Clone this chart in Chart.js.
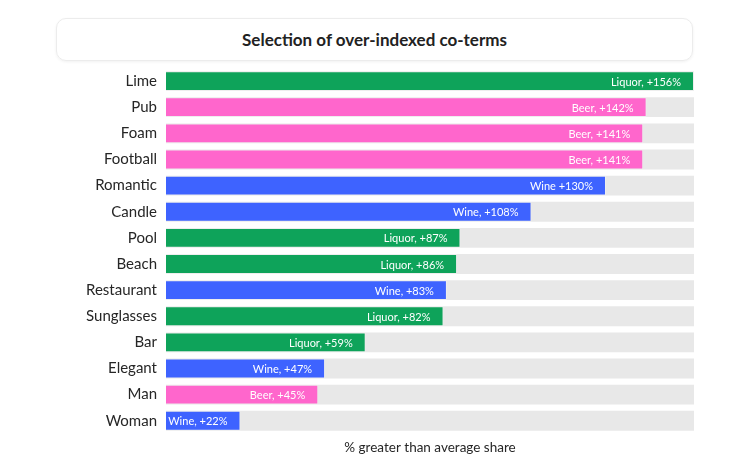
<!DOCTYPE html>
<html>
<head>
<meta charset="utf-8">
<script src="https://cdn.jsdelivr.net/npm/chart.js@4"></script>
<style>
    html, body { margin: 0; padding: 0; background: #fff; }
    #wrap { position: relative; width: 750px; height: 469px; }
    #title_box {
        position: absolute; left: 56px; top: 18px; width: 635px; height: 41px;
        border: 1px solid #ececec; border-radius: 10px;
        box-shadow: 0 1px 3px rgba(0, 0, 0, .06);
        font-family: Lato, sans-serif; font-weight: bold; font-size: 17px; color: #222;
        display: flex; align-items: center; justify-content: center;
    }
    #main_chart { position: absolute; left: 0; top: 0; }
</style>
</head>
<body>
<div id="wrap">
    <div id="title_box">Selection of over-indexed co-terms</div>
    <canvas id="main_chart" width="750" height="469"></canvas>
</div>
<script>
let colors = {
    'liquor': '#0ea35a',
    'beer': '#ff66cc',
    'wine': '#3e63ff',
    'track': '#e8e8e8',
    'text': '#262626',
}

const terms = ['Lime', 'Pub', 'Foam', 'Football', 'Romantic', 'Candle', 'Pool', 'Beach', 'Restaurant', 'Sunglasses', 'Bar', 'Elegant', 'Man', 'Woman'];
const values = [156, 142, 141, 141, 130, 108, 87, 86, 83, 82, 59, 47, 45, 22];
const drinks = ['Liquor', 'Beer', 'Beer', 'Beer', 'Wine', 'Wine', 'Liquor', 'Liquor', 'Wine', 'Liquor', 'Liquor', 'Wine', 'Beer', 'Wine'];
const bar_labels = ['Liquor, +156%', 'Beer, +142%', 'Beer, +141%', 'Beer, +141%', 'Wine +130%', 'Wine, +108%', 'Liquor, +87%', 'Liquor, +86%', 'Wine, +83%', 'Liquor, +82%', 'Liquor, +59%', 'Wine, +47%', 'Beer, +45%', 'Wine, +22%'];
const max_value = 156;
const track = terms.map(() => max_value);

const drink_color = d => colors[d.toLowerCase()];

// write the label inside the end of each bar
const barText = {
    id: 'barText',
    afterDatasetsDraw(chart) {
        const ctx = chart.ctx;
        const meta = chart.getDatasetMeta(0);
        ctx.save();
        ctx.font = '11px Lato';
        ctx.fillStyle = '#fff';
        ctx.textAlign = 'right';
        ctx.textBaseline = 'middle';
        meta.data.forEach((bar, i) => {
            ctx.fillText(bar_labels[i], bar.x - 13, bar.y + 1);
        });
        ctx.restore();
    }
}

new Chart(document.getElementById('main_chart'), {
    type: 'bar',
    data: {
        labels: terms,
        datasets: [{
            label: 'share',
            data: values,
            backgroundColor: drinks.map(drink_color),
            borderColor: 'rgba(255, 255, 255, .25)',
            borderWidth: 1,
            grouped: false,
            order: 0,
        },
        {
            label: 'track',
            data: track,
            backgroundColor: colors.track,
            borderWidth: 0,
            grouped: false,
            order: 1,
        }]
    },
    options: {
        indexAxis: 'y',
        responsive: false,
        animation: false,
        categoryPercentage: 1,
        barPercentage: 0.76,
        layout: {
            padding: { top: 68, right: 56, bottom: 11, left: 0 }
        },
        scales: {
            x: {
                min: 0,
                max: max_value,
                grid: { display: false, drawTicks: false },
                border: { display: false },
                ticks: { display: false },
                title: {
                    display: true,
                    text: '% greater than average share',
                    color: colors.text,
                    font: { size: 13.5, family: 'Lato' },
                    padding: { top: 6, bottom: 2 },
                }
            },
            y: {
                grid: { display: false, drawTicks: false },
                border: { display: false },
                ticks: {
                    color: colors.text,
                    padding: 9,
                    font: { size: 15, family: 'Lato' },
                },
                afterFit(axis) { axis.width = 166; }
            }
        },
        plugins: {
            legend: { display: false },
            tooltip: { enabled: false },
        }
    },
    plugins: [barText]
});
</script>
</body>
</html>
